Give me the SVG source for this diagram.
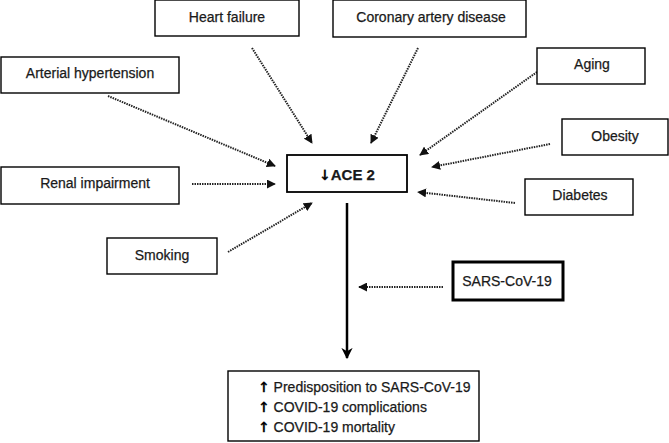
<svg xmlns="http://www.w3.org/2000/svg" width="669" height="443" viewBox="0 0 669 443">
<style>
.box{fill:#fff;stroke:#000;stroke-width:1.4}
.t{font-family:"Liberation Sans",Arial,sans-serif;font-size:14px;fill:#1a1a1a;text-anchor:middle;stroke:#1a1a1a;stroke-width:0.25}
.ar{font-family:"DejaVu Sans",sans-serif;font-weight:bold;fill:#000}
.dot{stroke:#222;stroke-width:2;stroke-dasharray:1.5 1;fill:none}
.solid{stroke:#000;stroke-width:2.5;fill:none}
</style>
<defs>
<marker id="ah" viewBox="0 0 10 10" refX="9" refY="5" markerWidth="4.5" markerHeight="4.5" orient="auto" markerUnits="strokeWidth">
<path d="M0,0 L10,5 L0,10 z" fill="#111"/>
</marker>
<marker id="ahs" viewBox="0 0 10 10" refX="9" refY="5" markerWidth="4.5" markerHeight="4.5" orient="auto" markerUnits="strokeWidth">
<path d="M0,0 L10,5 L0,10 L3,5 z" fill="#000"/>
</marker>
</defs>
<rect width="669" height="443" fill="#fff"/>
<g id="connectors">
<line class="dot" x1="252" y1="48" x2="312" y2="143" marker-end="url(#ah)"/>
<line class="dot" x1="418" y1="48" x2="371" y2="143" marker-end="url(#ah)"/>
<line class="dot" x1="108" y1="96" x2="275" y2="166" marker-end="url(#ah)"/>
<line class="dot" x1="192" y1="184" x2="275" y2="184" marker-end="url(#ah)"/>
<line class="dot" x1="228" y1="252" x2="312" y2="203" marker-end="url(#ah)"/>
<line class="dot" x1="537" y1="72" x2="420" y2="155" marker-end="url(#ah)"/>
<line class="dot" x1="550" y1="144" x2="432" y2="167" marker-end="url(#ah)"/>
<line class="dot" x1="515" y1="203" x2="418" y2="192" marker-end="url(#ah)"/>
<line class="dot" x1="443" y1="287" x2="359" y2="287" marker-end="url(#ah)"/>
<line class="solid" x1="347" y1="203" x2="347" y2="358" marker-end="url(#ahs)"/>
</g>
<g id="heart-failure"><rect class="box" x="155" y="0" width="144" height="36"/><text class="t" x="227" y="22">Heart failure</text></g>
<g id="coronary"><rect class="box" x="333" y="0" width="193" height="37"/><text class="t" x="431" y="22">Coronary artery disease</text></g>
<g id="arterial"><rect class="box" x="1" y="57" width="178" height="36"/><text class="t" x="90" y="78">Arterial hypertension</text></g>
<g id="renal"><rect class="box" x="1" y="167" width="178" height="37"/><text class="t" x="95" y="188">Renal impairment</text></g>
<g id="smoking"><rect class="box" x="107" y="238" width="110" height="36"/><text class="t" x="162" y="260">Smoking</text></g>
<g id="ace2"><rect class="box" x="287" y="155" width="120" height="37" style="stroke-width:1.8"/><text class="t" x="347" y="180" style="font-weight:bold;font-size:15px"><tspan class="ar" font-size="14">↓</tspan>ACE 2</text></g>
<g id="aging"><rect class="box" x="537" y="48" width="108" height="36"/><text class="t" x="592" y="69">Aging</text></g>
<g id="obesity"><rect class="box" x="562" y="119" width="106" height="36"/><text class="t" x="615" y="141">Obesity</text></g>
<g id="diabetes"><rect class="box" x="525" y="179" width="108" height="36"/><text class="t" x="580" y="200">Diabetes</text></g>
<g id="sars"><rect class="box" x="453" y="262" width="110" height="38" style="stroke-width:3"/><text class="t" x="507" y="286">SARS-CoV-19</text></g>
<g id="outcome"><rect class="box" x="228" y="371" width="251" height="70"/>
<text class="t" x="258" y="392" style="text-anchor:start"><tspan class="ar">↑</tspan> Predisposition to SARS-CoV-19</text>
<text class="t" x="258" y="412" style="text-anchor:start"><tspan class="ar">↑</tspan> COVID-19 complications</text>
<text class="t" x="258" y="432" style="text-anchor:start"><tspan class="ar">↑</tspan> COVID-19 mortality</text>
</g>
</svg>
